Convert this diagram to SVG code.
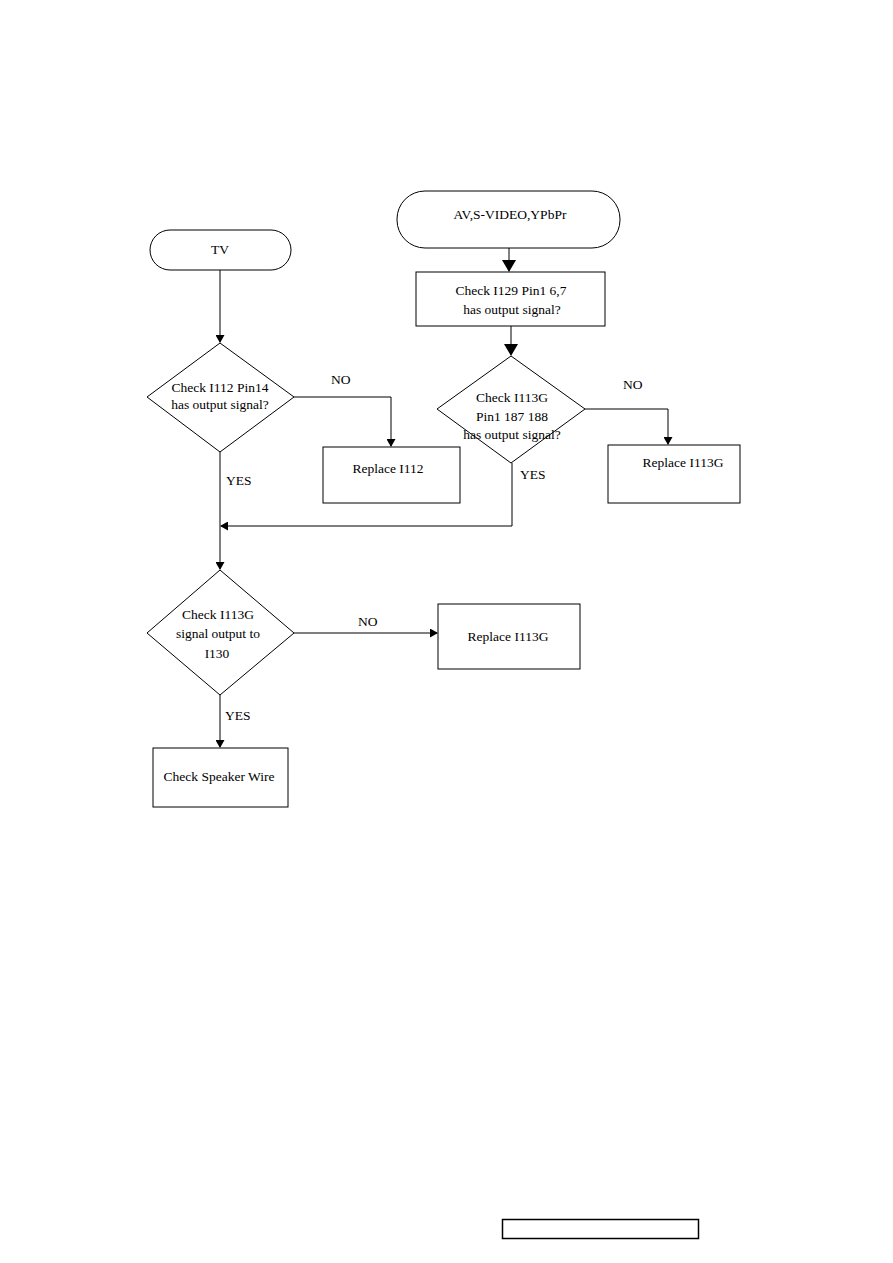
<svg xmlns="http://www.w3.org/2000/svg" width="893" height="1263" viewBox="0 0 893 1263">
<style>
.s{fill:#fff;stroke:#000;stroke-width:1}
.t{font-family:"Liberation Serif","Times New Roman",serif;font-size:13.5px;fill:#000;text-anchor:middle}
.l{font-family:"Liberation Serif","Times New Roman",serif;font-size:13.5px;fill:#000}
.c{fill:none;stroke:#000;stroke-width:1}
</style>
<defs>
<marker id="a" markerWidth="8" markerHeight="9" refX="7" refY="4.5" orient="auto" markerUnits="userSpaceOnUse"><path d="M0,0 L8,4.5 L0,9 Z" fill="#000"/></marker>
<marker id="b" markerWidth="12" markerHeight="14" refX="11" refY="7" orient="auto" markerUnits="userSpaceOnUse"><path d="M0,0 L12,7 L0,14 Z" fill="#000"/></marker>
</defs>
<rect width="893" height="1263" fill="#fff"/>
<g id="connectors">
<path class="c" d="M509,248 V271" marker-end="url(#b)"/>
<path class="c" d="M511,326 V355" marker-end="url(#b)"/>
<path class="c" d="M220,270 V342" marker-end="url(#a)"/>
<path class="c" d="M294,397 H391 V446" marker-end="url(#a)"/>
<path class="c" d="M585,409 H668 V444" marker-end="url(#a)"/>
<path class="c" d="M512,463 V526 H221" marker-end="url(#a)"/>
<path class="c" d="M220,452 V569" marker-end="url(#a)"/>
<path class="c" d="M294,633 H437" marker-end="url(#a)"/>
<path class="c" d="M220,695 V747" marker-end="url(#a)"/>
<text class="l" x="331" y="384">NO</text>
<text class="l" x="226" y="485">YES</text>
<text class="l" x="623" y="389">NO</text>
<text class="l" x="520" y="479">YES</text>
<text class="l" x="358" y="626">NO</text>
<text class="l" x="225" y="720">YES</text>
</g>
<g id="tv"><rect class="s" x="150" y="230" width="141" height="40" rx="20"/><text class="t" x="220" y="254">TV</text></g>
<g id="av"><rect class="s" x="397" y="191" width="223" height="57" rx="28"/><text class="t" x="510" y="219">AV,S-VIDEO,YPbPr</text></g>
<g id="check129"><rect class="s" x="416" y="272" width="189" height="54"/><text class="t" x="511" y="295">Check  I129 Pin1 6,7</text><text class="t" x="512" y="314">has output signal?</text></g>
<g id="d1"><polygon class="s" points="220,343 294,397 220,452 147,397"/><text class="t" x="220" y="392">Check I112 Pin14</text><text class="t" x="220" y="409">has output signal?</text></g>
<g id="r112"><rect class="s" x="323" y="447" width="137" height="56"/><text class="t" x="388" y="473">Replace  I112</text></g>
<g id="d2"><polygon class="s" points="511,356 585,409 511,463 437,409"/><text class="t" x="512" y="402">Check I113G</text><text class="t" x="512" y="421">Pin1  187  188</text><text class="t" x="512" y="439">has output signal?</text></g>
<g id="r113a"><rect class="s" x="608" y="445" width="132" height="58"/><text class="t" x="683" y="467">Replace  I113G</text></g>
<g id="d3"><polygon class="s" points="220,570 294,633 220,695 147,633"/><text class="t" x="218" y="619">Check I113G</text><text class="t" x="218" y="638">signal output to</text><text class="t" x="217" y="658">I130</text></g>
<g id="r113b"><rect class="s" x="438" y="604" width="142" height="65"/><text class="t" x="508" y="641">Replace  I113G</text></g>
<g id="speaker"><rect class="s" x="153" y="748" width="135" height="59"/><text class="t" x="219" y="781">Check Speaker Wire</text></g>
<g id="footer"><rect x="502.5" y="1219.5" width="196" height="19" fill="none" stroke="#000" stroke-width="1.5"/></g>
</svg>
